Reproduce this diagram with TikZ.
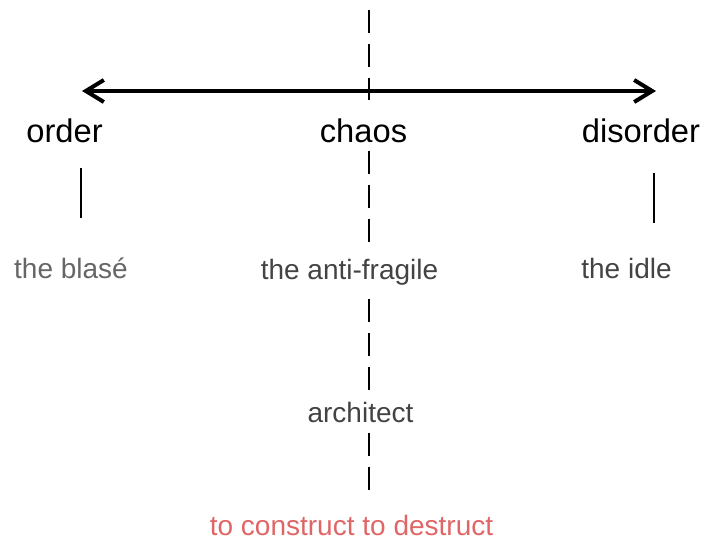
\documentclass[tikz,border=0pt]{standalone}
\usepackage{fontspec}
\setmainfont{Liberation Sans}
\usetikzlibrary{arrows.meta}
\definecolor{darkgray4}{HTML}{434343}
\definecolor{darkgray2}{HTML}{666666}
\definecolor{lightred}{HTML}{E06666}
\begin{document}
\begin{tikzpicture}[x=0.5pt,y=-0.5pt,
  pole/.style={inner sep=0pt,anchor=base,font=\fontsize{16.35}{19}\selectfont},
  kind/.style={inner sep=0pt,anchor=base,text=darkgray4,font=\fontsize{14}{17}\selectfont},
  axis/.style={line width=2pt,{Straight Barb[length=9pt,width=11pt]}-{Straight Barb[length=9pt,width=11pt]}},
  split/.style={line width=1pt,dash pattern=on 11.5pt off 5.5pt},
  tick/.style={line width=1pt}]
\useasboundingbox (0,0) rectangle (701,540);
	\node[pole] (order) at (64.5,142) {order};
	\node[pole] (chaos) at (363.5,142) {chaos};
	\node[pole] (disorder) at (641,142) {disorder};
	\node[kind,text=darkgray2] (blase) at (71,278) {the blasé};
	\node[kind] (antifragile) at (349.5,279) {the anti-fragile};
	\node[kind] (idle) at (626.5,278) {the idle};
	\node[kind] (architect) at (360.5,422) {architect};
	\node[kind,text=lightred] (act) at (351.5,535) {to construct to destruct};
\coordinate (left) at (82,91);
\coordinate (right) at (656,91);
\coordinate (top) at (369,10);
\coordinate (bottom) at (369,490);
\coordinate (ordera) at (81,168);
\coordinate (orderb) at (81,218);
\coordinate (disordera) at (654,173);
\coordinate (disorderb) at (654,223);
\draw[axis] (left) -- (right);
\draw[split, shorten >=9pt] (top) -- (top |- chaos.north);
\draw[split, shorten <=4pt, shorten >=8pt] (top |- chaos.south) -- (top |- antifragile.north);
\draw[split, shorten <=7pt, shorten >=4pt] (top |- antifragile.south) -- (top |- architect.north);
\draw[split, shorten <=5pt] (top |- architect.south) -- (bottom);
\draw[tick] (ordera) -- (orderb);
\draw[tick] (disordera) -- (disorderb);
	\end{tikzpicture}
\end{document}
